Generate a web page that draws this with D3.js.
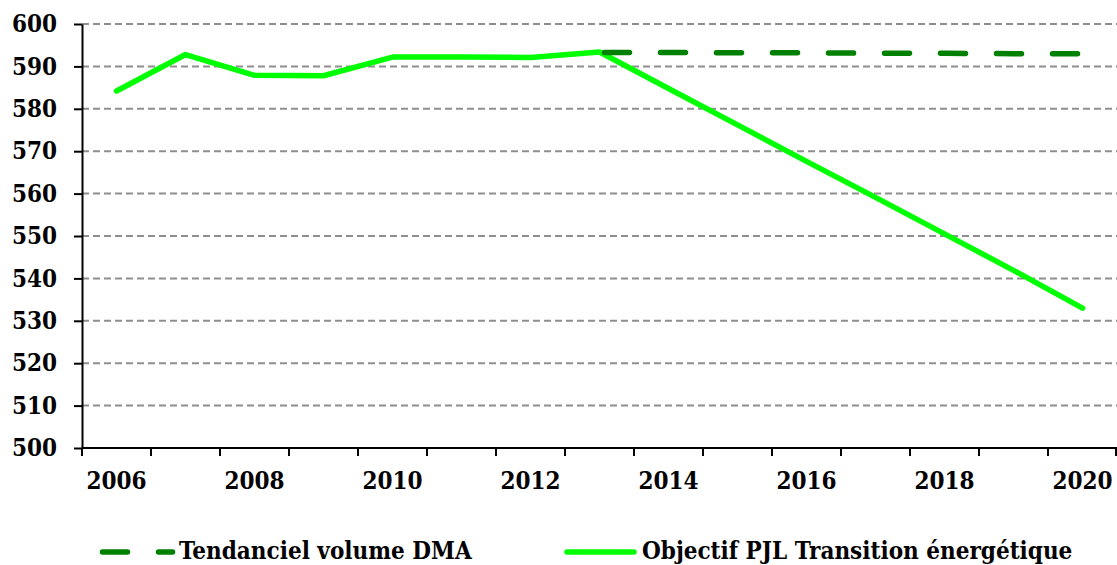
<!DOCTYPE html>
<html>
<head>
<meta charset="utf-8">
<script src="https://cdn.jsdelivr.net/npm/d3@7"></script>
<style>
  html, body { margin: 0; padding: 0; background: #fff; }
  svg { display: block; }
  text { font-family: "DejaVu Serif Condensed", "DejaVu Serif", serif; font-stretch: condensed; font-weight: bold; fill: #000; }
</style>
</head>
<body>
<svg id="chart" width="1117" height="565"></svg>
<script>
const years = [2006, 2007, 2008, 2009, 2010, 2011, 2012, 2013, 2014, 2015, 2016, 2017, 2018, 2019, 2020];
const objectif = [584.2, 592.8, 587.9, 587.8, 592.2, 592.2, 592.1, 593.4, 584.8, 576.2, 567.6, 559.1, 550.5, 541.9, 533.0];
const tendanciel = [null, null, null, null, null, null, null, 593.3, 593.3, 593.2, 593.2, 593.1, 593.1, 593.0, 593.0];
const yTicks = [500, 510, 520, 530, 540, 550, 560, 570, 580, 590, 600];
const xLabels = [2006, 2008, 2010, 2012, 2014, 2016, 2018, 2020];
const seriesNames = ["Tendanciel volume DMA", "Objectif PJL Transition énergétique"];

const svg = d3.select("#chart");
const mLeft = 82, mRight = 1117, mTop = 24, mBottom = 448;

const x = d3.scaleBand().domain(years).range([mLeft, mRight]);
const y = d3.scaleLinear().domain([500, 600]).range([mBottom, mTop]);
const cx = d => x(d) + x.bandwidth() / 2;

// gridlines
svg.append("g").selectAll("line")
  .data(yTicks.filter(t => t > 500))
  .join("line")
  .attr("x1", mLeft).attr("x2", mRight)
  .attr("y1", d => y(d)).attr("y2", d => y(d))
  .attr("stroke", "#8e8e8e").attr("stroke-width", 2)
  .attr("stroke-dasharray", "7,4");

// y axis
const yAxis = svg.append("g").attr("transform", `translate(${mLeft},0)`)
  .call(d3.axisLeft(y).tickValues(yTicks).tickSize(8).tickPadding(17).tickSizeOuter(0));
yAxis.attr("font-family", null).attr("font-size", null);
yAxis.select(".domain").attr("stroke", "#000").attr("stroke-width", 2);
yAxis.selectAll(".tick line").attr("stroke", "#000").attr("stroke-width", 2);
yAxis.selectAll(".tick text").attr("font-size", 24).attr("fill", "#000");

// x axis
const xAxisG = svg.append("g").attr("transform", `translate(0,${mBottom})`);
xAxisG.append("line").attr("x1", mLeft).attr("x2", mRight).attr("y1", 0).attr("y2", 0)
  .attr("stroke", "#000").attr("stroke-width", 2);
const bounds = years.map(d => x(d)).concat([x(years[years.length - 1]) + x.bandwidth()]);
xAxisG.selectAll("line.tk").data(bounds).join("line").attr("class", "tk")
  .attr("x1", d => Math.min(d, mRight - 1)).attr("x2", d => Math.min(d, mRight - 1))
  .attr("y1", 0).attr("y2", 8)
  .attr("stroke", "#000").attr("stroke-width", 2);
xAxisG.selectAll("text").data(xLabels).join("text")
  .attr("x", d => cx(d)).attr("y", 34)
  .attr("text-anchor", "middle").attr("dominant-baseline", "middle")
  .attr("font-size", 24)
  .text(d => d);

// lines
const line = d3.line()
  .defined(d => d[1] != null)
  .x(d => cx(d[0])).y(d => y(d[1]));

svg.append("path")
  .datum(years.map((yr, i) => [yr, objectif[i]]))
  .attr("d", line)
  .attr("fill", "none").attr("stroke", "#00ff00").attr("stroke-width", 5.5)
  .attr("stroke-linecap", "round").attr("stroke-linejoin", "round");

svg.append("path")
  .datum(years.map((yr, i) => [yr, tendanciel[i]]))
  .attr("d", line)
  .attr("fill", "none").attr("stroke", "#008000").attr("stroke-width", 5.5)
  .attr("stroke-dasharray", "25,31").attr("stroke-dashoffset", -5)
  .attr("stroke-linecap", "round");

// legend
const ly = 552;
const leg = svg.append("g");
leg.append("line").attr("x1", 102.5).attr("x2", 172.5).attr("y1", ly).attr("y2", ly)
  .attr("stroke", "#008000").attr("stroke-width", 5.5)
  .attr("stroke-dasharray", "25,31").attr("stroke-linecap", "round");
leg.append("text").attr("x", 179).attr("y", ly).attr("dominant-baseline", "middle")
  .attr("font-size", 24).text(seriesNames[0]);
leg.append("line").attr("x1", 567).attr("x2", 634).attr("y1", ly).attr("y2", ly)
  .attr("stroke", "#00ff00").attr("stroke-width", 5.5).attr("stroke-linecap", "round");
leg.append("text").attr("x", 642).attr("y", ly).attr("dominant-baseline", "middle")
  .attr("font-size", 24).text(seriesNames[1]);
</script>
</body>
</html>
